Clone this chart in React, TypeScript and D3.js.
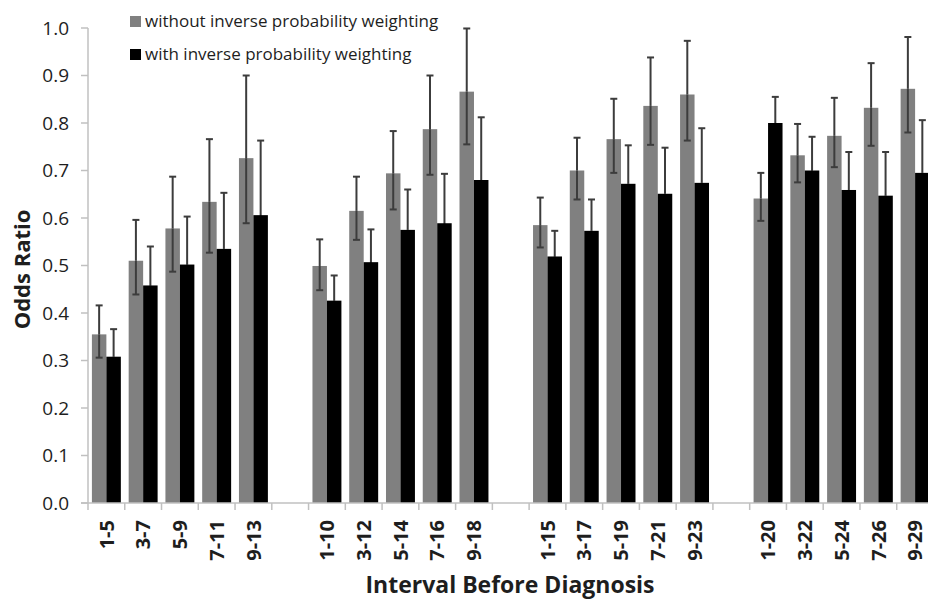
import * as d3 from "d3";

const width = 928;
const height = 600;
const marginLeft = 88;
const marginTop = 28;
const chartBottomY = 503;
const slotWidth = 36.76;

// interval categories, four groups of five with an empty slot between groups
const groups = [
  ["1-5", "3-7", "5-9", "7-11", "9-13"],
  ["1-10", "3-12", "5-14", "7-16", "9-18"],
  ["1-15", "3-17", "5-19", "7-21", "9-23"],
  ["1-20", "3-22", "5-24", "7-26", "9-29"],
];

const seriesNames = [
  "without inverse probability weighting",
  "with inverse probability weighting",
];

// odds ratio without IPW, with its 95% CI
const withoutOR = [
  0.355, 0.51, 0.578, 0.634, 0.726, 0.499, 0.615, 0.694, 0.787, 0.866, 0.585,
  0.7, 0.766, 0.836, 0.86, 0.641, 0.732, 0.773, 0.832, 0.872,
];
const withoutLo = [
  0.306, 0.439, 0.487, 0.527, 0.589, 0.448, 0.554, 0.618, 0.691, 0.755, 0.538,
  0.639, 0.695, 0.754, 0.763, 0.594, 0.675, 0.707, 0.752, 0.78,
];
const withoutHi = [
  0.416, 0.596, 0.687, 0.766, 0.9, 0.555, 0.687, 0.783, 0.9, 0.999, 0.643,
  0.769, 0.851, 0.938, 0.973, 0.695, 0.798, 0.853, 0.926, 0.981,
];

// odds ratio with IPW, with its 95% CI
const withOR = [
  0.308, 0.458, 0.502, 0.535, 0.606, 0.426, 0.507, 0.575, 0.589, 0.68, 0.519,
  0.573, 0.672, 0.651, 0.674, 0.8, 0.7, 0.659, 0.647, 0.695,
];
const withLo = [
  0.26, 0.39, 0.42, 0.44, 0.48, 0.38, 0.45, 0.5, 0.5, 0.57, 0.47, 0.51, 0.6,
  0.57, 0.58, 0.75, 0.64, 0.59, 0.57, 0.6,
];
const withHi = [
  0.366, 0.54, 0.603, 0.653, 0.763, 0.479, 0.576, 0.66, 0.693, 0.812, 0.573,
  0.639, 0.753, 0.748, 0.789, 0.855, 0.771, 0.739, 0.739, 0.806,
];

const yTicks = [0, 0.1, 0.2, 0.3, 0.4, 0.5, 0.6, 0.7, 0.8, 0.9, 1.0];

const grayFill = "#808080";
const blackFill = "#000000";
const axisColor = "#c0c0c0";
const errColor = "#3c3c3c";
const textColor = "#1e1e1e";
const font = "'Open Sans', sans-serif";

// build slots (with gap keys) and rows
const slots: string[] = [];
const rows: { key: string; label: string; i: number }[] = [];
groups.forEach((g, gi) => {
  if (gi > 0) slots.push(`gap${gi}`);
  g.forEach((label) => {
    const key = `g${gi}:${label}`;
    slots.push(key);
    rows.push({ key, label, i: rows.length });
  });
});

const App = () => {
  const xScale = d3
    .scaleBand()
    .domain(slots)
    .range([marginLeft, marginLeft + slots.length * slotWidth])
    .padding(0);

  const inner = d3
    .scaleBand()
    .domain(["without", "with"])
    .range([0, xScale.bandwidth()])
    .paddingInner(0)
    .paddingOuter(0.27);

  const yScale = d3.scaleLinear().domain([0, 1]).range([chartBottomY, marginTop]);

  const capHalf = 3.5;

  const series = [
    { id: "without", vals: withoutOR, lo: withoutLo, hi: withoutHi, fill: grayFill, inside: errColor },
    { id: "with", vals: withOR, lo: withLo, hi: withHi, fill: blackFill, inside: blackFill },
  ];

  const tickXs = [...slots.map((s) => xScale(s)!), xScale.range()[1]];

  return (
    <svg
      width={width}
      height={height}
      viewBox={`0 0 ${width} ${height}`}
      style={{ position: "absolute", left: 0, top: 0, background: "#fff" }}
    >
      {/* y axis */}
      <g className="y-axis">
        <line
          x1={marginLeft}
          x2={marginLeft}
          y1={yScale(1)}
          y2={chartBottomY}
          stroke={axisColor}
          strokeWidth={1.5}
        />
        {yTicks.map((t) => (
          <g key={t}>
            <line
              x1={marginLeft - 7}
              x2={marginLeft}
              y1={yScale(t)}
              y2={yScale(t)}
              stroke={axisColor}
              strokeWidth={1.5}
            />
            <text
              x={marginLeft - 19}
              y={yScale(t)}
              dy="0.36em"
              textAnchor="end"
              fontFamily={font}
              fontSize={19}
              fill={textColor}
            >
              {d3.format(".1f")(t)}
            </text>
          </g>
        ))}
        <text
          transform={`translate(30,${(marginTop + chartBottomY) / 2 + 4}) rotate(-90)`}
          textAnchor="middle"
          fontFamily={font}
          fontSize={22}
          fontWeight="bold"
          fill={textColor}
        >
          Odds Ratio
        </text>
      </g>

      {/* bars */}
      {series.map((s) => (
        <g key={s.id}>
          {rows.map((r) => (
            <rect
              key={r.key}
              x={xScale(r.key)! + inner(s.id)!}
              y={yScale(s.vals[r.i])}
              width={inner.bandwidth()}
              height={chartBottomY - yScale(s.vals[r.i])}
              fill={s.fill}
            />
          ))}
        </g>
      ))}

      {/* error bars: part above the bar in dark gray, part inside the bar */}
      {series.map((s) => (
        <g key={`err-${s.id}`} strokeWidth={2}>
          {rows.map((r) => {
            const cx = xScale(r.key)! + inner(s.id)! + inner.bandwidth() / 2;
            const yHi = yScale(s.hi[r.i]);
            const yMid = yScale(s.vals[r.i]);
            const yLo = yScale(s.lo[r.i]);
            return (
              <g key={r.key}>
                <line x1={cx} x2={cx} y1={yHi} y2={yMid} stroke={errColor} />
                <line x1={cx - capHalf} x2={cx + capHalf} y1={yHi} y2={yHi} stroke={errColor} />
                <line x1={cx} x2={cx} y1={yMid} y2={yLo} stroke={s.inside} />
                <line x1={cx - capHalf} x2={cx + capHalf} y1={yLo} y2={yLo} stroke={s.inside} />
              </g>
            );
          })}
        </g>
      ))}

      {/* x axis */}
      <g className="x-axis">
        <line
          x1={marginLeft - 7}
          x2={xScale.range()[1]}
          y1={chartBottomY}
          y2={chartBottomY}
          stroke={axisColor}
          strokeWidth={1.5}
        />
        {tickXs.map((x, i) => (
          <line
            key={i}
            x1={x}
            x2={x}
            y1={chartBottomY}
            y2={chartBottomY + 7}
            stroke={axisColor}
            strokeWidth={1.5}
          />
        ))}
        {rows.map((r) => (
          <text
            key={r.key}
            transform={`translate(${xScale(r.key)! + xScale.bandwidth() / 2},${chartBottomY + 17}) rotate(-90)`}
            dy="0.36em"
            textAnchor="end"
            fontFamily={font}
            fontSize={20}
            fontWeight="bold"
            fill={textColor}
          >
            {r.label}
          </text>
        ))}
        <text
          x={510}
          y={593}
          textAnchor="middle"
          fontFamily={font}
          fontSize={23}
          fontWeight="bold"
          fill={textColor}
        >
          Interval Before Diagnosis
        </text>
      </g>

      {/* legend */}
      {seriesNames.map((name, i) => (
        <g key={name} transform={`translate(130,${16 + i * 33})`}>
          <rect width={11} height={11} fill={i === 0 ? grayFill : blackFill} />
          <text
            x={15}
            y={11}
            fontFamily={font}
            fontSize={17}
            fill={textColor}
          >
            {name}
          </text>
        </g>
      ))}
    </svg>
  );
};

export default App;
